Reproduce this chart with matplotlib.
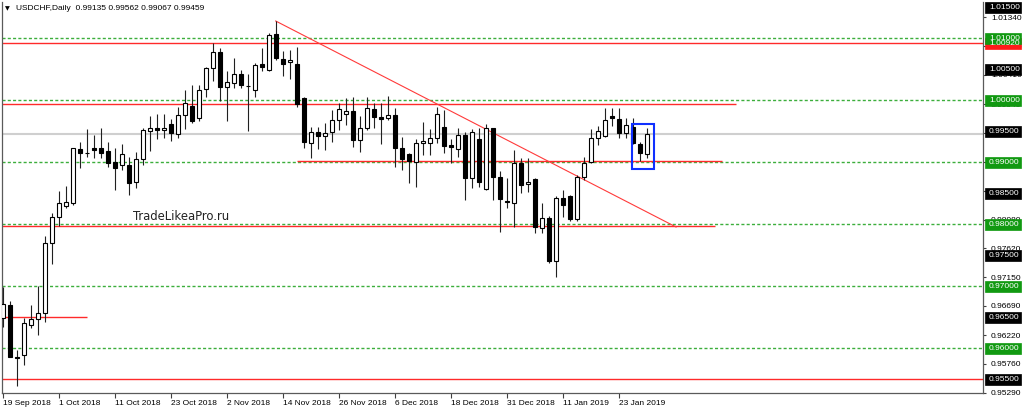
import matplotlib
matplotlib.use('Agg')
import matplotlib.pyplot as plt
from matplotlib.patches import Rectangle
import matplotlib.transforms as mtransforms

plt.rcParams['font.family'] = ['Liberation Sans', 'DejaVu Sans']

# ---------------- data ----------------
opens = [0.96490, 0.96704, 0.95871, 0.95899, 0.96387, 0.96474, 0.96570, 0.97698, 0.98126, 0.98299,
         0.98352, 0.99212, 0.99150, 0.99228, 0.99228, 0.99185, 0.99012, 0.98959, 0.98959, 0.98685,
         0.99051, 0.99507, 0.99550, 0.99518, 0.99615, 0.99458, 0.99769, 0.99909, 0.99711, 1.00178,
         1.00517, 1.00784, 1.00220, 1.00275, 1.00420, 1.00236, 1.00167, 1.00581, 1.00489, 1.01069,
         1.00662, 1.00613, 1.00586, 1.00043, 0.99309, 0.99495, 0.99431, 0.99486, 0.99684, 0.99781,
         0.99834, 0.99362, 0.99560, 0.99861, 0.99727, 0.99711, 0.99765, 0.99228, 0.99131, 0.99012,
         0.99309, 0.99318, 0.99389, 0.99566, 0.99281, 0.99217, 0.99442, 0.98755, 0.99378, 0.98572,
         0.99550, 0.98771, 0.98384, 0.98342, 0.98996, 0.98648, 0.98740, 0.97949, 0.98101, 0.97418,
         0.98423, 0.98460, 0.98084, 0.98761, 0.99003, 0.99399, 0.99426, 0.99748, 0.99695, 0.99470,
         0.99576, 0.99293, 0.99135]
highs = [0.96999, 0.96768, 0.95979, 0.96499, 0.96704, 0.97015, 0.97815, 0.98181, 0.98545, 0.98621,
         0.99238, 0.99334, 0.99534, 0.99442, 0.99550, 0.99334, 0.99228, 0.99297, 0.99093, 0.99169,
         0.99550, 0.99748, 0.99781, 0.99781, 0.99695, 0.99889, 1.00167, 1.00248, 1.00248, 1.00543,
         1.00929, 1.00839, 1.00478, 1.00678, 1.00489, 1.00425, 1.00597, 1.00839, 1.01093, 1.01279,
         1.00800, 1.00812, 1.00855, 1.00059, 0.99576, 0.99576, 0.99640, 0.99845, 0.99953, 1.00034,
         1.00059, 0.99753, 1.00059, 0.99953, 0.99953, 1.00071, 0.99882, 0.99415, 0.99148, 0.99373,
         0.99647, 0.99534, 0.99889, 0.99845, 0.99373, 0.99550, 0.99495, 0.99539, 0.99550, 0.99615,
         0.99560, 0.98862, 0.98745, 0.99201, 0.99067, 0.99067, 0.98745, 0.98342, 0.98138, 0.98460,
         0.98556, 0.98476, 0.98798, 0.99093, 0.99534, 0.99587, 0.99872, 0.99872, 0.99872, 0.99716,
         0.99716, 0.99334, 0.99562]
lows = [0.96345, 0.95862, 0.95404, 0.95738, 0.96329, 0.96221, 0.96435, 0.97364, 0.97977, 0.98262,
        0.98315, 0.98906, 0.99093, 0.99067, 0.99067, 0.98932, 0.98556, 0.98879, 0.98476, 0.98584,
        0.98959, 0.99189, 0.99378, 0.99389, 0.99351, 0.99389, 0.99544, 0.99640, 0.99673, 1.00059,
        1.00312, 0.99995, 0.99668, 1.00204, 1.00195, 0.99512, 1.00059, 1.00478, 1.00473, 1.00650,
        1.00398, 1.00344, 0.99898, 0.99228, 0.99077, 0.99212, 0.99201, 0.99325, 0.99523, 0.99603,
        0.99254, 0.99164, 0.99523, 0.99560, 0.99293, 0.99684, 0.98932, 0.98879, 0.98677, 0.98610,
        0.99120, 0.99120, 0.99309, 0.99157, 0.98986, 0.99093, 0.98395, 0.98593, 0.98610, 0.98564,
        0.98395, 0.97885, 0.98262, 0.97956, 0.98503, 0.98529, 0.97869, 0.97869, 0.97381, 0.97160,
        0.98126, 0.98062, 0.98062, 0.98717, 0.98996, 0.99281, 0.99415, 0.99587, 0.99389, 0.99389,
        0.99297, 0.99023, 0.99067]
closes = [0.96715, 0.95871, 0.95845, 0.96409, 0.96479, 0.96580, 0.97708, 0.98117, 0.98352, 0.98368,
          0.99228, 0.99148, 0.99145, 0.99201, 0.99148, 0.98986, 0.98906, 0.99136, 0.98674, 0.99051,
          0.99523, 0.99550, 0.99518, 0.99550, 0.99470, 0.99769, 0.99953, 0.99673, 1.00167, 1.00517,
          1.00784, 1.00220, 1.00291, 1.00420, 1.00248, 1.00236, 1.00570, 1.00533, 1.01061, 1.00678,
          1.00586, 1.00650, 0.99937, 0.99334, 0.99486, 0.99431, 0.99479, 0.99684, 0.99861, 0.99834,
          0.99362, 0.99560, 0.99872, 0.99737, 0.99705, 0.99765, 0.99228, 0.99051, 0.99019, 0.99318,
          0.99346, 0.99389, 0.99781, 0.99270, 0.99244, 0.99442, 0.98755, 0.99486, 0.98690, 0.99560,
          0.98771, 0.98407, 0.98363, 0.98996, 0.98637, 0.98690, 0.97965, 0.98101, 0.97418, 0.98423,
          0.98315, 0.98084, 0.98771, 0.98996, 0.99399, 0.99512, 0.99684, 0.99711, 0.99470, 0.99603,
          0.99309, 0.99148, 0.99459]

date_labels = ["19 Sep 2018", "1 Oct 2018", "11 Oct 2018", "23 Oct 2018", "2 Nov 2018",
               "14 Nov 2018", "26 Nov 2018", "6 Dec 2018", "18 Dec 2018", "31 Dec 2018",
               "11 Jan 2019", "23 Jan 2019"]
label_step = 8

price_ticks = [1.0134, 1.0087, 1.0041, 0.9994, 0.9947, 0.9900, 0.9854,
               0.9808, 0.9762, 0.9715, 0.9669, 0.9622, 0.9576, 0.9529]

green_levels = [1.010, 1.000, 0.990, 0.980, 0.970, 0.960]
black_levels = [1.015, 1.005, 0.995, 0.985, 0.975, 0.965, 0.955]
red_level_label = 1.00920

# horizontal red lines: price, start bar, end bar (None = chart edge)
red_lines = [(1.00919, None, None), (0.99937, None, 104.8), (0.99024, 42.0, 102.8),
             (0.97977, None, 101.8), (0.96506, None, 12.0), (0.95507, None, None)]
trend_x = [39, 96.2]
trend_y = [1.01279, 0.97960]
box_x = [89.94, 93.04]
box_y = [0.98895, 0.99615]

title = "USDCHF,Daily  0.99135 0.99562 0.99067 0.99459"
watermark = "TradeLikeaPro.ru"

# ---------------- figure ----------------
W, H = 1024, 413
fig = plt.figure(figsize=(W / 100, H / 100), dpi=100)
L_px, R_px, T_px, B_px = 1.7, 983.3, 2.0, 393.0
ax = fig.add_axes([L_px / W, 1 - B_px / H, (R_px - L_px) / W, (B_px - T_px) / H])
XMIN, XMAX = -0.14, 140.09
YMIN, YMAX = 0.95286, 1.01585
ax.set_xlim(XMIN, XMAX)
ax.set_ylim(YMIN, YMAX)

# current price line
ax.axhline(closes[-1], color='#cfcfcf', lw=1.5, zorder=1)

# green dotted levels
for g in green_levels:
    ax.axhline(g + 0.00008, color='#3cae3c', lw=1.0, linestyle=(0, (2.2, 1.6)), zorder=1.2)

# red lines
for p, x0, x1 in red_lines:
    ax.hlines(p, XMIN if x0 is None else x0, XMAX if x1 is None else x1,
              color='#ff2a2a', lw=1.0, zorder=1.3)

# trend line
ax.plot(trend_x, trend_y, color='#ff3a3a', lw=0.8, zorder=1.4)

# candles
bw = 0.62
for i, (o, h, l, c) in enumerate(zip(opens, highs, lows, closes)):
    ax.vlines(i, l, h, color='#202020', lw=0.8, zorder=3)
    up = c >= o
    bot = min(o, c)
    ht = abs(c - o)
    ax.add_patch(Rectangle((i - bw / 2, bot), bw, ht,
                           facecolor='white' if up else 'black',
                           edgecolor='black', lw=0.8, zorder=4))

# blue box
ax.add_patch(Rectangle((box_x[0], box_y[0]), box_x[1] - box_x[0], box_y[1] - box_y[0],
                       facecolor='none', edgecolor='#1030ff', lw=1.5, zorder=6))

# axes styling
for s in ['left', 'bottom', 'right']:
    ax.spines[s].set_color('#5a5a5a')
    ax.spines[s].set_linewidth(0.9)
ax.spines['top'].set_visible(False)

xt = list(range(0, label_step * len(date_labels), label_step))
ax.set_xticks(xt)
ax.set_xticklabels(date_labels)
for lbl in ax.get_xticklabels():
    lbl.set_horizontalalignment('left')
ax.tick_params(axis='x', length=3.5, width=0.8, color='#404040', labelsize=6, pad=1.5)

ax.yaxis.tick_right()
ax.set_yticks(price_ticks)
ax.set_yticklabels(["%.5f" % t for t in price_ticks])
ax.tick_params(axis='y', length=2.5, width=0.8, color='#404040', labelsize=6, pad=3)

# right-hand price boxes
blend = mtransforms.blended_transform_factory(fig.transFigure, ax.transData)
hh = 11.0 / 6208
bx0, bwid = 985 / W, 36 / W


def price_box(p, col):
    ax.add_artist(Rectangle((bx0, p - hh / 2), bwid, hh, transform=blend, facecolor=col,
                            edgecolor=col, lw=0.5, clip_on=False, zorder=10))
    ax.text(989 / W, p - 0.00003, "%.5f" % p, transform=blend, color='white', fontsize=6,
            va='center', ha='left', clip_on=False, zorder=11)


price_box(red_level_label, '#ff1a1a')
for p in black_levels:
    price_box(p, 'black')
for p in green_levels:
    price_box(p, '#119911')

# title & watermark
ax.text(3.5 / (R_px - L_px), 1 - 7 / (B_px - T_px), "\u25bc", transform=ax.transAxes,
        fontsize=4.5, family='DejaVu Sans', va='center', ha='left', color='black')
ax.text((16 - L_px) / (R_px - L_px), 1 - 7 / (B_px - T_px), title, transform=ax.transAxes,
        fontsize=6, va='center', ha='left', color='black')
ax.text((133 - L_px) / (R_px - L_px), (B_px - 216.5) / (B_px - T_px), watermark,
        transform=ax.transAxes, fontsize=8.4, family='DejaVu Sans', va='center', ha='left',
        color='#222222')

fig.savefig('out.png', dpi=100, facecolor='white')
